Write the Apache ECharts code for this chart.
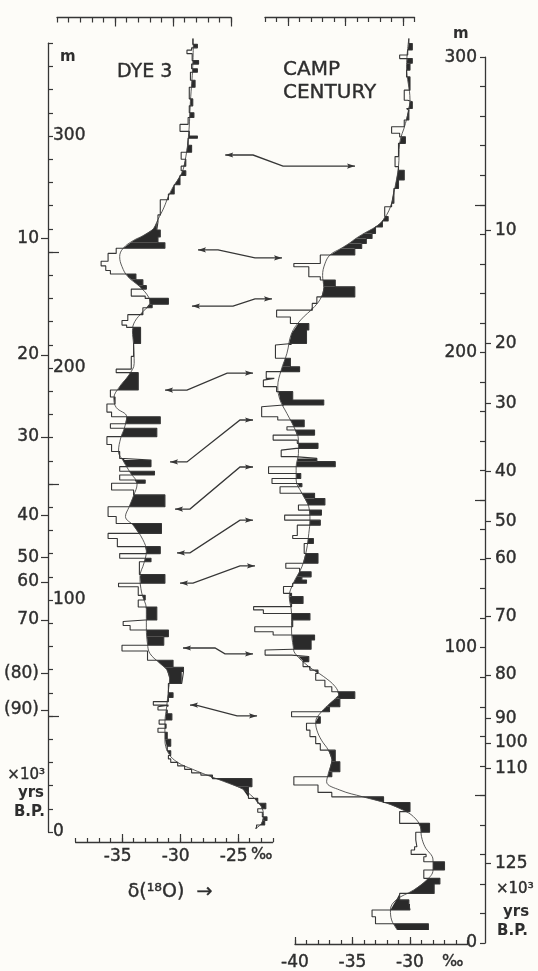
<!DOCTYPE html>
<html><head><meta charset="utf-8">
<script src="https://cdn.jsdelivr.net/npm/echarts@6/dist/echarts.min.js"></script>
<style>html,body{margin:0;padding:0;background:#fdfcf8}#main{width:538px;height:971px}</style>
</head><body><div id="main"></div>
<script>
// ---------- DATA ----------
// DYE 3: step profile (bin top depth in m, delta18O per mil), bins run downward
const dye3BinTop = [342,339.5,338,337,335.5,332.5,331,329,327.5,324,321,316,313,310,308,305,302,300,299,296,293,290,287,285,283,279,275,272.5,266,263,259.5,256.5,254,251.6,249.4,246,244,242,240.5,238,235.5,234,231,230,227.5,226,223,220.5,218.5,217.5,210.6,205,199.5,198,190.5,187.5,184.5,181,179,176,174,170.4,167,164,161,160.3,157.5,155.5,153.9,151.7,150.3,147.4,145.3,140.2,136,133,128.7,126.5,123,120,118,116.5,111,107.2,105.7,102,100,97,91.4,90.7,89,87.1,84.2,80.5,78,74,71,69,64,60,58,56.2,54.7,54,52.6,51,48.3,46.5,44.7,43,40,37,35,33,31.5,30,28.5,27,25.5,24.5,23,19.5,14.5,12.4,10,8.5,6.5,5,3];
const dye3BinValue = [-28.9,-28.5,-29.0,-29.4,-28.95,-28.4,-29.0,-28.5,-29.1,-28.7,-29.2,-28.9,-29.2,-28.8,-29.3,-30.0,-29.2,-28.5,-29.3,-29.0,-29.9,-29.5,-29.9,-29.5,-30.0,-30.5,-31.0,-31.7,-31.9,-32.0,-31.7,-31.9,-31.3,-35.5,-36.2,-36.8,-36.4,-36.0,-33.8,-33.2,-32.9,-34.2,-33.0,-31.0,-32.4,-33.2,-34.5,-35.0,-34.6,-33.4,-34.0,-34.2,-35.5,-33.6,-36.0,-35.6,-36.3,-35.9,-31.7,-36.0,-32.0,-36.3,-35.9,-35.2,-34.8,-32.5,-35.2,-32.2,-35.2,-33.0,-35.9,-34.0,-31.3,-36.2,-35.5,-31.6,-36.2,-35.4,-31.7,-35.2,-32.5,-33.5,-31.3,-35.3,-33.6,-33.0,-33.6,-32.0,-33.0,-34.9,-34.3,-31.0,-31.4,-35.0,-32.8,-30.6,-29.7,-29.85,-31.0,-30.6,-31.0,-32.3,-31.0,-31.9,-31.1,-30.7,-31.8,-31.2,-31.9,-31.1,-30.8,-31.1,-30.8,-31.0,-30.8,-30.2,-29.6,-29.0,-28.2,-27.2,-23.8,-24.1,-23.3,-22.6,-23.3,-22.9,-22.5,-22.7,-23.4];
const dye3BinEnd = 1.5;
// DYE 3: smooth curve
const dye3CurveDepth = [342,330,315,301,291,284,278,274,269,264,260,257,255,251.6,248,243.7,239.4,235,230.5,227.9,224.3,220,216,210,202,197,192,187,183,179,174,170,164,160,155,150,145,140,136,132,126,121,116,110,103,96,88,81,77,73,70,66,61,54,47,40,34,30,27,24,21,18.5,15,11,7,3.5,1.5];
const dye3CurveValue = [-28.85,-28.9,-29.1,-29.25,-29.5,-29.85,-30.6,-31.0,-31.4,-31.9,-32.3,-33.2,-34.0,-34.9,-35.2,-35.0,-34.5,-33.45,-32.7,-32.6,-33.2,-33.9,-34.1,-34.0,-33.95,-34.4,-35.2,-35.7,-35.5,-34.6,-34.8,-35.1,-35.3,-34.9,-34.3,-33.7,-34.0,-34.4,-34.7,-34.0,-33.2,-32.9,-33.1,-33.45,-33.3,-32.9,-32.9,-32.8,-32.6,-31.8,-31.15,-30.9,-31.0,-31.15,-31.3,-31.3,-31.0,-30.2,-28.9,-27.4,-25.8,-24.6,-23.7,-23.0,-22.8,-23.0,-23.5];

// CAMP CENTURY: step profile
const ccBinTop = [306.3,304.6,302.4,300.7,299.5,297.9,295.6,293.3,288.8,285.4,284.9,282.6,282,278.7,276.4,274.2,273,270.8,266.3,262.9,261.7,258.4,255.5,250.5,249.3,246,244.5,242.5,240.3,238.6,236.9,235.2,233,230.1,229,225.6,224.5,222.2,218.8,216.6,214.3,212,209.8,207.6,203,202.5,198,195.1,193.5,191.2,190.6,188.4,186.7,183.9,182.2,181.6,178.2,177.1,174.8,173.7,172,170.3,169.2,167.5,166.9,164.7,164.1,163,161.3,159,157.3,155.6,154.5,152.3,150.5,148.3,146.6,144.9,143.2,141.5,138,137,135.3,131.9,128.6,126.9,125.7,124,122.9,121.8,120.7,118.4,117.3,115,113.9,112.8,111.6,109.4,107.1,105.4,104.3,102.6,99.5,99.2,97.5,97,95.3,93.6,92.4,91.3,89,86.8,85.1,82.8,80,78.3,76.6,74.4,72.1,69.9,67.5,65.3,61.4,58,56.3,53.5,51,49.5,47.6,44.5,40.5,37.5,34.9,32.6,31.5,30,29.2,27.5,24.7,21.9,20,16.8,14.6,13.2,11.2,8.9,6.5];
const ccBinValue = [-30.1,-29.8,-30.2,-30.9,-29.8,-30.0,-30.3,-30.0,-30.5,-30.2,-29.8,-30.3,-30.1,-30.5,-31.6,-30.9,-30.4,-31.0,-31.3,-31.0,-30.5,-31.0,-31.4,-31.6,-32.2,-31.9,-32.4,-33.0,-33.3,-33.8,-34.2,-34.8,-37.8,-40.1,-38.8,-37.8,-36.5,-34.8,-38.1,-38.5,-41.6,-40.4,-38.8,-39.0,-40.3,-41.7,-40.4,-39.6,-42.5,-41.8,-42.75,-41.6,-40.2,-37.5,-41.0,-42.9,-41.5,-39.2,-40.7,-38.3,-41.9,-39.8,-38.0,-39.9,-41.2,-40.0,-38.1,-36.5,-42.3,-39.5,-42.0,-39.4,-41.3,-38.3,-37.4,-39.7,-37.7,-40.9,-37.8,-39.8,-40.2,-38.4,-39.2,-38.0,-40.8,-39.6,-38.6,-39.4,-39.0,-40.2,-41.0,-40.3,-39.3,-40.3,-43.6,-42.75,-38.7,-40.2,-43.5,-41.9,-38.3,-38.6,-40.2,-42.6,-40.3,-38.8,-39.3,-38.7,-38.0,-38.2,-37.4,-36.8,-34.8,-36.1,-37.0,-40.3,-37.8,-39.0,-38.7,-38.2,-37.8,-36.5,-36.1,-36.8,-40.1,-38.0,-36.8,-32.3,-30.0,-30.9,-28.3,-29.5,-29.4,-29.6,-29.9,-28.6,-28.8,-27.0,-28.8,-27.4,-27.9,-30.9,-30.1,-30.0,-33.3,-33.0,-28.4];
const ccBinEnd = 4.4;
// CAMP CENTURY: smooth curve
const ccCurveDepth = [306.3,296.7,285.4,277.5,270.8,262.9,256,249.3,244.5,242.5,240.3,238.6,236.9,235.2,233,230,226,222,218.8,215.5,211,206.4,199.7,194,188.4,183.9,179.3,174.8,170.3,165.8,161.3,156.8,152.3,147.7,143.2,138.7,133.1,127.4,121.8,117.3,111.6,106,100.3,98.1,93.6,90.2,86.8,84,81.2,78.3,74.9,72.1,68.7,65.3,62,57.4,54.6,51.8,49.5,47.3,45,42.8,39.4,36,32.6,28.1,24.7,21.3,17.9,14.6,11.2,7.8,5,4.4];
const ccCurveValue = [-30.1,-30.3,-30.0,-30.4,-30.9,-31.0,-31.3,-31.7,-32.4,-33.0,-34.0,-34.7,-35.3,-36.0,-36.95,-37.4,-37.6,-37.5,-37.7,-38.3,-39.5,-40.3,-40.7,-41.2,-41.5,-41.3,-40.7,-40.1,-39.7,-39.7,-39.9,-39.9,-39.4,-38.8,-38.7,-38.8,-39.0,-39.4,-40.15,-40.5,-40.3,-40.3,-40.15,-40.0,-38.8,-37.5,-36.5,-36.2,-36.95,-37.7,-38.2,-38.1,-37.7,-37.1,-36.8,-37.1,-37.25,-36.1,-34.1,-32.0,-30.6,-29.7,-29.1,-29.0,-28.7,-28.0,-28.0,-28.55,-29.7,-31.2,-31.7,-31.6,-31.2,-31.1];

// age scales (depth in m where each age tick sits)
const dye3AgeDepth = [256.0,205.6,170.3,136.6,118.5,107.8,91.4,68.5,52.6];
const dye3AgeLabel = ['10','20','30','40','50','60','70','(80)','(90)'];
const ccAgeDepth = [241.4,203.1,182.8,159.6,142.7,130.3,110.5,90.8,76.1,67.8,59.2,27.0];
const ccAgeLabel = ['10','20','30','40','50','60','70','80','90','100','110','125'];
const meterLabels = [0,100,200,300];
const meterLongTicks = [50,150,250];
const dye3DeltaLabels = [-35,-30,-25];
const ccDeltaLabels = [-40,-35,-30];

// correlation arrows: DYE 3 end (depth, delta) and CAMP CENTURY end (depth, delta)
const arrowDyeDepth = [291.8,250.9,226.7,190.5,159.5,139.2,120.3,107.3,79.3,54.7];
const arrowDyeTip = [-26.1,-28.45,-28.97,-31.29,-30.86,-30.43,-30.26,-30.0,-29.74,-29.14];
const arrowDyeKnee = [-23.7,-26.72,-25.43,-29.4,-29.4,-29.14,-29.14,-28.88,-26.98,-28.62];
const arrowCcDepth = [263.1,232.0,218.1,193.0,177.1,161.2,143.2,127.7,97.9,76.9];
const arrowCcKnee = [-41.04,-43.48,-43.48,-45.9,-44.78,-44.78,-44.78,-44.78,-46.09,-45.04];
const arrowCcTip = [-34.78,-41.13,-42.0,-43.65,-43.65,-43.65,-43.65,-43.48,-43.65,-43.3];

// ---------- STYLE ----------
const INK = '#363636';
const TXT = '#2e2e2e';
const FILL = '#2a2a2a';
const FONT = '"DejaVu Sans", "Liberation Sans", sans-serif';
const ints = (a, b) => { const r = []; for (let v = a; v <= b; v++) r.push(v); return r; };

function stepPoints(tops, vals, end) {
  const pts = [];
  for (let i = 0; i < tops.length; i++) {
    const bot = i + 1 < tops.length ? tops[i + 1] : end;
    pts.push([vals[i], tops[i]], [vals[i], bot]);
  }
  return pts;
}
function binItems(tops, vals, end) {
  return tops.map((t, i) => [vals[i], t, i + 1 < tops.length ? tops[i + 1] : end]);
}
function interpCurve(depths, values, d) {
  if (d >= depths[0]) return values[0];
  for (let i = 1; i < depths.length; i++) {
    if (d >= depths[i]) {
      const t = (depths[i - 1] - d) / (depths[i - 1] - depths[i]);
      return values[i - 1] + t * (values[i] - values[i - 1]);
    }
  }
  return values[values.length - 1];
}
function makeFill(depths, values) {
  return function (params, api) {
    const v = api.value(0), top = api.value(1), bot = api.value(2);
    const ds = [top];
    for (const d of depths) if (d < top && d > bot) ds.push(d);
    ds.push(bot);
    let any = false;
    const pts = [api.coord([v, top]), api.coord([v, bot])];
    for (let i = ds.length - 1; i >= 0; i--) {
      const c = interpCurve(depths, values, ds[i]);
      if (c < v) any = true;
      pts.push(api.coord([Math.min(c, v), ds[i]]));
    }
    if (!any) return null;
    return {type: 'polygon', shape: {points: pts}, style: {fill: FILL}};
  };
}

const lbl = {fontFamily: FONT, fontSize: 17, color: TXT, textBorderColor: TXT, textBorderWidth: 0.4};
const tickLine = {color: INK, width: 1.2};
const axLine = {show: true, onZero: false, lineStyle: {color: INK, width: 1.3}};
const noLine = {show: false, onZero: false};

function xAx(grid, min, max, pos, offset, tickVals, len, labelVals, margin, showLine, fmt) {
  const label = labelVals ? Object.assign({show: true, customValues: labelVals, margin}, lbl) : {show: false};
  if (fmt) label.formatter = fmt;
  return {
    gridIndex: grid, type: 'value', min, max, position: pos, offset,
    axisLine: showLine ? axLine : noLine,
    axisTick: {show: true, inside: true, length: len, customValues: tickVals, lineStyle: tickLine},
    axisLabel: label,
    splitLine: {show: false}, minorTick: {show: false}
  };
}
function hidden(grid, min, max) {
  return {gridIndex: grid, type: 'value', show: false, min, max,
    axisLine: {show: false, onZero: false}, splitLine: {show: false}};
}

// pixel layout of the two panels
const DYE_ZERO = 832, DYE_PM = 2.32, DYE_PU = 11.6;
const CC_ZERO = 943, CC_PM = 2.953, CC_PU = 11.5;
const dyeData = {left: 122 - 4 * DYE_PU, top: DYE_ZERO - 344 * DYE_PM, width: 17 * DYE_PU, height: 344 * DYE_PM};
const dyeAxes = {left: 122 - 4 * DYE_PU, top: DYE_ZERO - 340 * DYE_PM, width: 17 * DYE_PU, height: 340 * DYE_PM};
const ccData = {left: 295 - 4 * CC_PU, top: CC_ZERO - 308 * CC_PM, width: 19 * CC_PU, height: 308 * CC_PM};
const ccAxes = {left: 295, top: CC_ZERO - 300 * CC_PM, width: 15 * CC_PU, height: 300 * CC_PM};
const dyeOff = dyeAxes.left - 48;
const ccOff = 485 - (ccAxes.left + ccAxes.width);

const gridBase = {show: false, containLabel: false, outerBoundsMode: 'none'};
const g = o => Object.assign({}, gridBase, o);
const option = {
  animation: false,
  backgroundColor: '#fdfcf8',
  grid: [
    g(dyeData), g(ccData),
    g({left: 57, top: 17.5, width: 15 * DYE_PU, height: 20}),
    g({left: 265, top: 17, width: 13 * CC_PU, height: 20}),
    g(dyeAxes), g(ccAxes)
  ],
  xAxis: [
    hidden(0, -39, -22),
    hidden(1, -44, -25),
    xAx(2, -40, -25, 'top', 0, [-35, -30, -25], 9, null, 0, true),
    xAx(2, -40, -25, 'top', 0, ints(-40, -25), 5, null, 0, false),
    xAx(3, -42, -29, 'top', 0, [-40, -35, -30], 9, null, 0, true),
    xAx(3, -42, -29, 'top', 0, ints(-42, -29), 5, null, 0, false),
    xAx(4, -39, -22, 'bottom', 10, dye3DeltaLabels, 8, dye3DeltaLabels, 6, true, v => v + '\u2002'),
    xAx(4, -39, -22, 'bottom', 10, ints(-39, -22), 4, null, 0, false),
    xAx(5, -40, -25, 'bottom', 1, ccDeltaLabels, 7, ccDeltaLabels, 10, true),
    xAx(5, -40, -25, 'bottom', 1, ints(-40, -25), 4, null, 0, false)
  ],
  yAxis: [
    hidden(0, 0, 344),
    hidden(1, 0, 308),
    hidden(2, 0, 1),
    hidden(3, 0, 1),
    {gridIndex: 4, type: 'value', min: 0, max: 340, interval: 10, position: 'left', offset: dyeOff,
      axisLine: axLine, axisTick: {show: true, inside: true, length: 5, lineStyle: tickLine},
      axisLabel: Object.assign({show: true, inside: true, customValues: meterLabels, margin: 5}, lbl), splitLine: {show: false}},
    {gridIndex: 4, type: 'value', min: 0, max: 340, position: 'left', offset: dyeOff, axisLine: noLine,
      axisTick: {show: true, inside: true, length: 11, customValues: meterLongTicks, lineStyle: tickLine},
      axisLabel: {show: false}, splitLine: {show: false}},
    {gridIndex: 4, type: 'value', min: 0, max: 340, position: 'left', offset: dyeOff, axisLine: noLine,
      axisTick: {show: true, inside: false, length: 7, customValues: dye3AgeDepth, lineStyle: tickLine},
      axisLabel: Object.assign({show: true, inside: false, customValues: dye3AgeDepth, margin: 9,
        formatter: v => dye3AgeLabel[nearest(dye3AgeDepth, v)]}, lbl), splitLine: {show: false}},
    {gridIndex: 5, type: 'value', min: 0, max: 300, interval: 10, position: 'right', offset: ccOff,
      axisLine: axLine, axisTick: {show: true, inside: true, length: 5, lineStyle: tickLine},
      axisLabel: Object.assign({show: true, inside: true, customValues: meterLabels, margin: 8}, lbl), splitLine: {show: false}},
    {gridIndex: 5, type: 'value', min: 0, max: 300, position: 'right', offset: ccOff, axisLine: noLine,
      axisTick: {show: true, inside: true, length: 10, customValues: meterLongTicks, lineStyle: tickLine},
      axisLabel: {show: false}, splitLine: {show: false}},
    {gridIndex: 5, type: 'value', min: 0, max: 300, position: 'right', offset: ccOff, axisLine: noLine,
      axisTick: {show: true, inside: false, length: 6, customValues: ccAgeDepth, lineStyle: tickLine},
      axisLabel: Object.assign({show: true, inside: false, customValues: ccAgeDepth, margin: 10,
        formatter: v => ccAgeLabel[nearest(ccAgeDepth, v)]}, lbl), splitLine: {show: false}}
  ],
  series: [
    {type: 'custom', xAxisIndex: 0, yAxisIndex: 0, clip: false, silent: true, z: 1,
      renderItem: makeFill(dye3CurveDepth, dye3CurveValue), data: binItems(dye3BinTop, dye3BinValue, dye3BinEnd)},
    {type: 'line', xAxisIndex: 0, yAxisIndex: 0, clip: false, silent: true, z: 3, symbol: 'none',
      lineStyle: {color: INK, width: 1.1}, data: stepPoints(dye3BinTop, dye3BinValue, dye3BinEnd)},
    {type: 'line', xAxisIndex: 0, yAxisIndex: 0, clip: false, silent: true, z: 2, symbol: 'none', smooth: 0.4,
      lineStyle: {color: '#4a4a4a', width: 0.9}, data: dye3CurveDepth.map((d, i) => [dye3CurveValue[i], d])},
    {type: 'custom', xAxisIndex: 1, yAxisIndex: 1, clip: false, silent: true, z: 1,
      renderItem: makeFill(ccCurveDepth, ccCurveValue), data: binItems(ccBinTop, ccBinValue, ccBinEnd)},
    {type: 'line', xAxisIndex: 1, yAxisIndex: 1, clip: false, silent: true, z: 3, symbol: 'none',
      lineStyle: {color: INK, width: 1.1}, data: stepPoints(ccBinTop, ccBinValue, ccBinEnd)},
    {type: 'line', xAxisIndex: 1, yAxisIndex: 1, clip: false, silent: true, z: 2, symbol: 'none', smooth: 0.4,
      lineStyle: {color: '#4a4a4a', width: 0.9}, data: ccCurveDepth.map((d, i) => [ccCurveValue[i], d])}
  ]
};
function nearest(arr, v) {
  let b = 0;
  for (let i = 1; i < arr.length; i++) if (Math.abs(arr[i] - v) < Math.abs(arr[b] - v)) b = i;
  return b;
}

const chart = echarts.init(document.getElementById('main'), null, {renderer: 'canvas'});
chart.setOption(option);

function txt(x, y, text, size, align, weight) {
  return {type: 'text', x, y, silent: true, z: 20,
    style: {text, fill: TXT, stroke: TXT, lineWidth: weight ? 0 : 0.4,
      font: (weight || 'normal') + ' ' + size + 'px ' + FONT,
      align, textAlign: align, verticalAlign: 'middle', textVerticalAlign: 'middle'}};
}
function head(tip, from) {
  const dx = tip[0] - from[0], dy = tip[1] - from[1], L = Math.hypot(dx, dy) || 1;
  const ux = dx / L, uy = dy / L, bx = tip[0] - ux * 8, by = tip[1] - uy * 8;
  return {type: 'polygon', silent: true, z: 20,
    shape: {points: [tip, [bx - uy * 2.6, by + ux * 2.6], [bx - ux * -1.5, by - uy * -1.5], [bx + uy * 2.6, by - ux * 2.6]]},
    style: {fill: INK}};
}
const els = [
  txt(117, 72, 'DYE 3', 19, 'left'),
  txt(283, 70, 'CAMP', 20, 'left'),
  txt(283, 93, 'CENTURY', 20, 'left'),
  txt(60, 57, 'm', 15, 'left', 'bold'),
  txt(453, 34, 'm', 15, 'left', 'bold'),
  txt(45, 775, '×10³', 15, 'right'),
  txt(44, 793, 'yrs', 15, 'right', 'bold'),
  txt(45, 812, 'B.P.', 15, 'right', 'bold'),
  txt(496, 889, '×10³', 15, 'left'),
  txt(503, 912, 'yrs', 15, 'left', 'bold'),
  txt(497, 931, 'B.P.', 15, 'left', 'bold'),
  txt(251, 855, '‰', 16, 'left'),
  txt(442, 962, '‰', 16, 'left'),
  txt(170, 892, 'δ(¹⁸O)  →', 19, 'center')
];
for (let i = 0; i < arrowDyeDepth.length; i++) {
  const p0 = chart.convertToPixel({seriesIndex: 1}, [arrowDyeTip[i], arrowDyeDepth[i]]);
  const p1 = chart.convertToPixel({seriesIndex: 1}, [arrowDyeKnee[i], arrowDyeDepth[i]]);
  const p2 = chart.convertToPixel({seriesIndex: 4}, [arrowCcKnee[i], arrowCcDepth[i]]);
  const p3 = chart.convertToPixel({seriesIndex: 4}, [arrowCcTip[i], arrowCcDepth[i]]);
  els.push({type: 'polyline', silent: true, z: 20, shape: {points: [p0, p1, p2, p3]},
    style: {stroke: INK, lineWidth: 1.3, fill: null}});
  els.push(head(p0, p1), head(p3, p2));
}
chart.setOption({graphic: {elements: els}});
</script></body></html>
